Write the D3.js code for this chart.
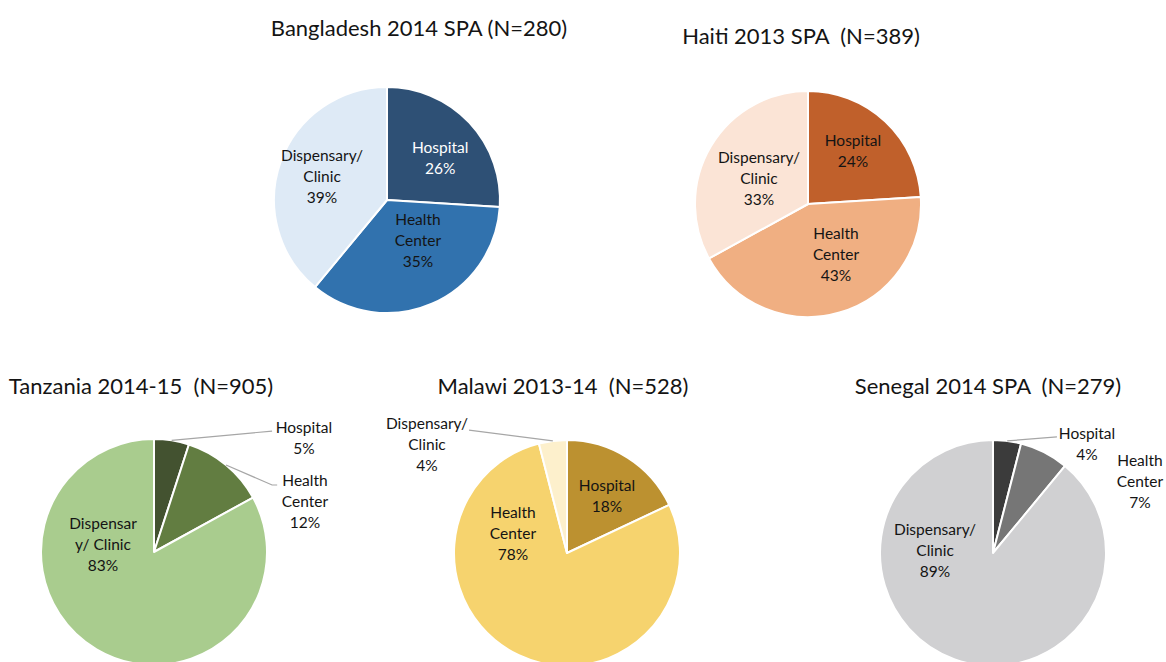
<!DOCTYPE html>
<html><head><meta charset="utf-8">
<script src="https://cdn.jsdelivr.net/npm/d3@7"></script>
<style>
html,body{margin:0;padding:0;background:#fff;}
svg{display:block;font-family:Lato,"Open Sans",sans-serif;}
</style></head>
<body>
<svg id="c" width="1166" height="662"></svg>
<script>
// ---- data ----
const categories = ["Hospital", "Health Center", "Dispensary/ Clinic"];
const titles = [
  "Bangladesh 2014 SPA (N=280)",
  "Haiti 2013 SPA  (N=389)",
  "Tanzania 2014-15  (N=905)",
  "Malawi 2013-14  (N=528)",
  "Senegal 2014 SPA  (N=279)"
];
const bangladesh = [26, 35, 39];
const haiti      = [24, 43, 33];
const tanzania   = [5, 12, 83];
const malawi     = [18, 78, 4];
const senegal    = [4, 7, 89];
// label text lines (category name as wrapped in the original)
const labelNames = [
  [["Hospital"], ["Health", "Center"], ["Dispensary/", "Clinic"]],
  [["Hospital"], ["Health", "Center"], ["Dispensary/", "Clinic"]],
  [["Hospital"], ["Health", "Center"], ["Dispensar", "y/ Clinic"]],
  [["Hospital"], ["Health", "Center"], ["Dispensary/", "Clinic"]],
  [["Hospital"], ["Health", "Center"], ["Dispensary/", "Clinic"]]
];

// ---- styling / layout ----
const palettes = [
  ["#2E5075", "#3172AE", "#DEEAF6"],
  ["#C0602B", "#F0AF82", "#FBE4D6"],
  ["#435230", "#627D41", "#A9CC8E"],
  ["#BC9130", "#F6D36E", "#FDF0CC"],
  ["#3B3B3B", "#767676", "#D0D0D2"]
];
const labelColors = [
  ["#ffffff", "#141414", "#141414"],
  ["#141414", "#141414", "#141414"],
  ["#141414", "#141414", "#141414"],
  ["#141414", "#141414", "#141414"],
  ["#141414", "#141414", "#141414"]
];
const R = 113;
const centers = [[387, 200], [808, 204], [154, 552], [567, 553], [993, 553]];
const titlePos = [[419, 27], [801, 35], [141, 385], [563, 385], [988, 385]];
// label block centres in radius units relative to pie centre
const labelPos = [
  [[0.47, -0.376], [0.274, 0.354], [-0.575, -0.212]],
  [[0.398, -0.473], [0.248, 0.442], [-0.434, -0.23]],
  [[1.327, -1.013], [1.336, -0.451], [-0.451, -0.071]],
  [[0.354, -0.509], [-0.478, -0.177], [-1.239, -0.965]],
  [[0.832, -0.969], [1.301, -0.637], [-0.513, -0.027]]
];
// leader lines: [slice index, end point (radius units), optional tail end]
const leaders = [
  [], [],
  [[0, [1.045, -1.07], null], [1, [1.045, -0.593], [1.09, -0.593]]],
  [[2, [-0.867, -1.088], null]],
  [[0, [0.566, -1.027], null]]
];
const lineH = 21;

const svg = d3.select("#c");
const datasets = [bangladesh, haiti, tanzania, malawi, senegal];
const pie = d3.pie().sort(null).value(d => d);
const arc = d3.arc().innerRadius(0).outerRadius(R);

datasets.forEach((vals, ci) => {
  const [cx, cy] = centers[ci];
  const g = svg.append("g").attr("transform", `translate(${cx},${cy})`);
  const arcs = pie(vals);
  g.selectAll("path").data(arcs).join("path")
    .attr("d", arc)
    .attr("fill", (d, i) => palettes[ci][i])
    .attr("stroke", "#fff").attr("stroke-width", 2).attr("stroke-linejoin", "round");

  // leader lines
  leaders[ci].forEach(([si, end, tail]) => {
    const a = (arcs[si].startAngle + arcs[si].endAngle) / 2;
    const p0 = [Math.sin(a) * R, -Math.cos(a) * R];
    const pts = [p0, [end[0] * R, end[1] * R]];
    if (tail) pts.push([tail[0] * R, tail[1] * R]);
    g.append("path").attr("d", d3.line()(pts))
      .attr("fill", "none").attr("stroke", "#A6A6A6").attr("stroke-width", 1.2);
  });

  // labels
  arcs.forEach((d, i) => {
    const lines = labelNames[ci][i].concat([vals[i] + "%"]);
    const [lx, ly] = labelPos[ci][i];
    const x = lx * R, y0 = ly * R - (lines.length - 1) * lineH / 2;
    const t = g.append("text").attr("text-anchor", "middle")
      .attr("font-size", 15.5).attr("fill", labelColors[ci][i]);
    lines.forEach((s, k) => {
      t.append("tspan").attr("x", x).attr("y", y0 + k * lineH)
        .attr("dominant-baseline", "central").text(s);
    });
  });

  svg.append("text")
    .attr("x", titlePos[ci][0]).attr("y", titlePos[ci][1])
    .attr("text-anchor", "middle").attr("dominant-baseline", "central")
    .attr("font-size", 22).attr("fill", "#141414")
    .style("white-space", "pre").attr("xml:space", "preserve")
    .text(titles[ci]);
});
</script>
</body></html>
